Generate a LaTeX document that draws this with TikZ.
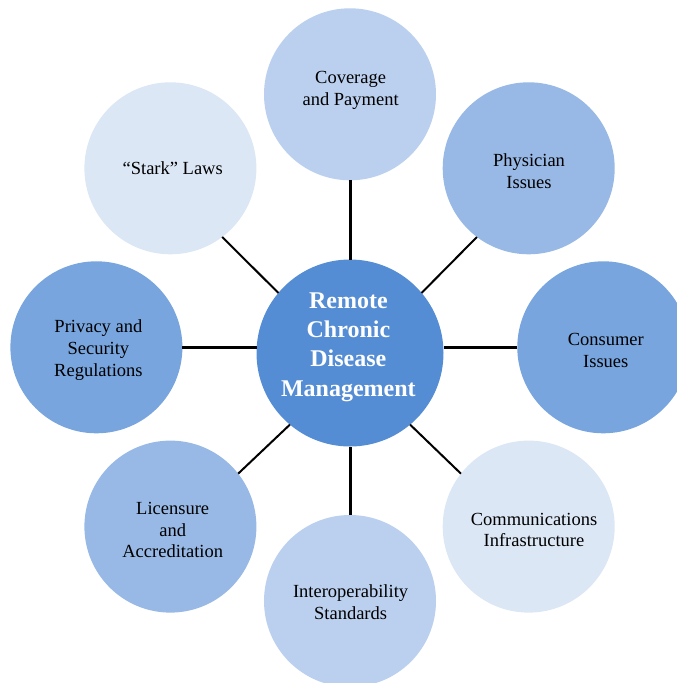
\documentclass[tikz,border=0pt]{standalone}
\usepackage{fontspec}
\setmainfont{Liberation Serif}
\definecolor{hubblue}{HTML}{558DD4}
\definecolor{pale}{HTML}{DCE7F5}
\definecolor{light}{HTML}{BBD0EE}
\definecolor{mid}{HTML}{98B9E5}
\definecolor{deep}{HTML}{78A5DE}
\tikzset{
  disc/.style={circle, inner sep=0pt, outer sep=0pt, minimum size=172pt},
  lbl/.style={align=center, inner sep=0pt, font=\fontsize{18.5}{21.8}\selectfont},
  spoke/.style={line width=2pt},
  axis spoke/.style={line width=3pt}
}
\begin{document}
\begin{tikzpicture}[x=1pt,y=-1pt]
  \useasboundingbox (0,0) rectangle (677,683);

  \node[disc, fill=hubblue, minimum size=187pt] (hub) at (350,353) {};

  \foreach \name/\x/\y/\col in {coverage/350/94.3/light, physician/528.7/168.3/mid,
      consumer/603.3/347.3/deep, comms/528.7/526.6/pale, interop/350/601/light,
      licensure/170.4/526.6/mid, privacy/96.4/347.3/deep, stark/170.4/168.3/pale}{
    \node[disc, fill=\col] (\name) at (\x,\y) {};
  }

	\draw[axis spoke] (coverage.south) -- (hub.north);
	\draw[axis spoke] (interop.north) -- (hub.south);
	\draw[axis spoke] (privacy.east) -- (privacy.east -| hub.west);
	\draw[axis spoke] (consumer.west) -- (consumer.west -| hub.east);
	\draw[spoke] (stark.-53) -- (hub.140);
	\draw[spoke] (physician.233) -- (hub.40);
	\draw[spoke] (comms.142) -- (hub.-50);
	\draw[spoke] (licensure.38) -- (hub.-130);

  \node[align=center, inner sep=0pt, text=white, font=\fontsize{24}{29.3}\selectfont\bfseries]
     (hubtxt) at (348.4,347) {Remote\\Chronic\\Disease\\Management};
	\node[lbl] (covtxt) at (350.6,90) {Coverage\\and Payment};
	\node[lbl] (phystxt) at (529,171) {Physician\\Issues};
	\node[lbl] (constxt) at (605.8,350.5) {Consumer\\Issues};
	\node[lbl] (commtxt) at (534,530) {Communications\\Infrastructure};
	\node[lbl] (interoptxt) at (350.6,602.5) {Interoperability\\Standards};
	\node[lbl] (lictxt) at (172.7,530) {Licensure\\and\\Accreditation};
	\node[lbl] (privtxt) at (98.4,350) {Privacy and\\Security\\Regulations};
	\node[lbl] (starktxt) at (172.7,168) {“Stark” Laws};
\end{tikzpicture}
\end{document}
